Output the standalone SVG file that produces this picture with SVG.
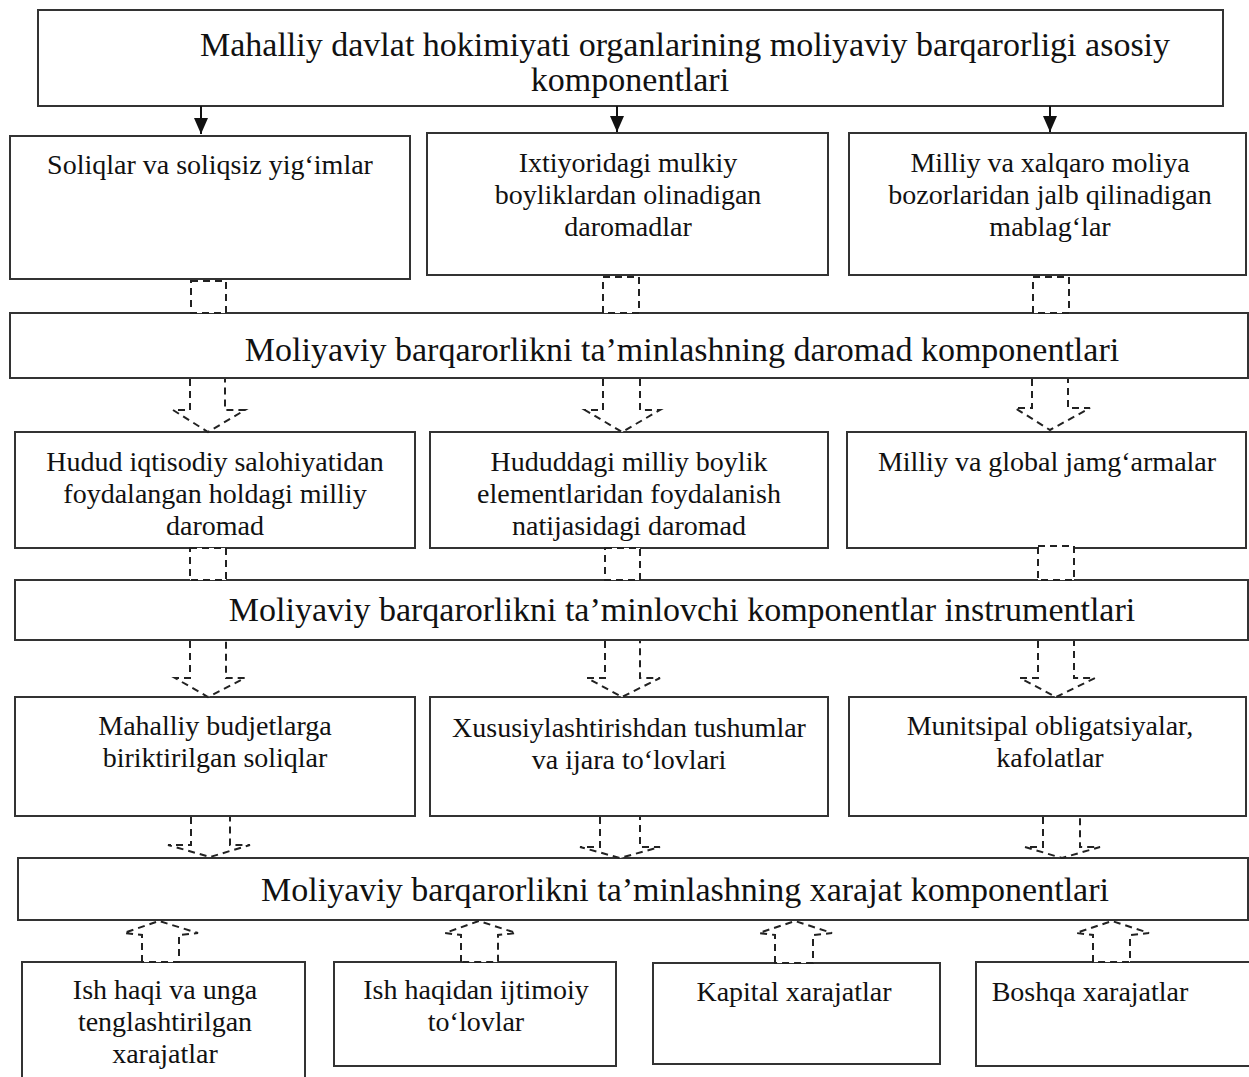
<svg xmlns="http://www.w3.org/2000/svg" width="1249" height="1077" viewBox="0 0 1249 1077">
<defs>
<style>
.box{fill:#fff;stroke:#333;stroke-width:2}
.t{font-family:"Liberation Serif","Times New Roman",serif;font-size:28px;fill:#111;text-anchor:middle}
.tb{font-family:"Liberation Serif","Times New Roman",serif;font-size:34px;fill:#111;text-anchor:middle}
.dash{fill:#fff;stroke:#222;stroke-width:2;stroke-dasharray:7,5}
.solid{stroke:#111;stroke-width:2;fill:none}
</style>
<marker id="ah" markerWidth="16" markerHeight="14" refX="16" refY="7" orient="auto" markerUnits="userSpaceOnUse" viewBox="0 0 16 14"><path d="M0,0 L16,7 L0,14 Z" fill="#111"/></marker>
</defs>
<rect width="1249" height="1077" fill="#fff"/>

<g id="n-top">
<rect class="box" x="38" y="10" width="1185" height="96"/>
<text class="tb" x="200" y="56" style="text-anchor:start">Mahalliy davlat hokimiyati organlarining moliyaviy barqarorligi asosiy</text>
<text class="tb" x="630" y="91">komponentlari</text>
</g>

<g id="n-r1a"><rect class="box" x="10" y="136" width="400" height="143"/>
<text class="t" x="210" y="174">Soliqlar va soliqsiz yig‘imlar</text></g>
<g id="n-r1b"><rect class="box" x="427" y="133" width="401" height="142"/>
<text class="t" x="628" y="172">Ixtiyoridagi mulkiy</text>
<text class="t" x="628" y="204">boyliklardan olinadigan</text>
<text class="t" x="628" y="236">daromadlar</text></g>
<g id="n-r1c"><rect class="box" x="849" y="133" width="397" height="142"/>
<text class="t" x="1050" y="172">Milliy va xalqaro moliya</text>
<text class="t" x="1050" y="204">bozorlaridan jalb qilinadigan</text>
<text class="t" x="1050" y="236">mablag‘lar</text></g>

<g id="n-bar1"><rect class="box" x="10" y="313" width="1238" height="65"/>
<text class="tb" x="682" y="361">Moliyaviy barqarorlikni ta’minlashning daromad komponentlari</text></g>

<g id="n-r2a"><rect class="box" x="15" y="432" width="400" height="116"/>
<text class="t" x="215" y="471">Hudud iqtisodiy salohiyatidan</text>
<text class="t" x="215" y="503">foydalangan holdagi milliy</text>
<text class="t" x="215" y="535">daromad</text></g>
<g id="n-r2b"><rect class="box" x="430" y="432" width="398" height="116"/>
<text class="t" x="629" y="471">Hududdagi milliy boylik</text>
<text class="t" x="629" y="503">elementlaridan foydalanish</text>
<text class="t" x="629" y="535">natijasidagi daromad</text></g>
<g id="n-r2c"><rect class="box" x="847" y="432" width="399" height="116"/>
<text class="t" x="1047" y="471">Milliy va global jamg‘armalar</text></g>

<g id="n-bar2"><rect class="box" x="15" y="580" width="1233" height="60"/>
<text class="tb" x="682" y="621">Moliyaviy barqarorlikni ta’minlovchi komponentlar instrumentlari</text></g>

<g id="n-r3a"><rect class="box" x="15" y="697" width="400" height="119"/>
<text class="t" x="215" y="735">Mahalliy budjetlarga</text>
<text class="t" x="215" y="767">biriktirilgan soliqlar</text></g>
<g id="n-r3b"><rect class="box" x="430" y="697" width="398" height="119"/>
<text class="t" x="629" y="737">Xususiylashtirishdan tushumlar</text>
<text class="t" x="629" y="769">va ijara to‘lovlari</text></g>
<g id="n-r3c"><rect class="box" x="849" y="697" width="397" height="119"/>
<text class="t" x="1050" y="735">Munitsipal obligatsiyalar,</text>
<text class="t" x="1050" y="767">kafolatlar</text></g>

<g id="n-bar3"><rect class="box" x="18" y="858" width="1230" height="62"/>
<text class="tb" x="685" y="901">Moliyaviy barqarorlikni ta’minlashning xarajat komponentlari</text></g>

<g id="n-r4a"><rect class="box" x="22" y="962" width="283" height="125"/>
<text class="t" x="165" y="999">Ish haqi va unga</text>
<text class="t" x="165" y="1031">tenglashtirilgan</text>
<text class="t" x="165" y="1063">xarajatlar</text></g>
<g id="n-r4b"><rect class="box" x="334" y="962" width="282" height="104"/>
<text class="t" x="476" y="999">Ish haqidan ijtimoiy</text>
<text class="t" x="476" y="1031">to‘lovlar</text></g>
<g id="n-r4c"><rect class="box" x="653" y="963" width="287" height="101"/>
<text class="t" x="794" y="1001">Kapital xarajatlar</text></g>
<g id="n-r4d"><rect class="box" x="976" y="962" width="290" height="104"/>
<text class="t" x="1090" y="1001">Boshqa xarajatlar</text></g>

<g id="connectors">
<line class="solid" x1="201" y1="106" x2="201" y2="134" marker-end="url(#ah)"/>
<line class="solid" x1="617" y1="106" x2="617" y2="132" marker-end="url(#ah)"/>
<line class="solid" x1="1050" y1="106" x2="1050" y2="132" marker-end="url(#ah)"/>

<rect class="dash" x="191" y="281" width="35" height="32"/>
<rect class="dash" x="603" y="277" width="36" height="36"/>
<rect class="dash" x="1033" y="277" width="36" height="36"/>

<polyline class="dash" points="190,379 190,410 173,410 208,432 245,410 225,410 225,379"/>
<polyline class="dash" points="603,379 603,410 585,410 622,432 660,410 640,410 640,379"/>
<polyline class="dash" points="1032,379 1032,408 1015,408 1050,430 1090,408 1068,408 1068,379"/>

<rect class="dash" x="190" y="548" width="36" height="32"/>
<rect class="dash" x="605" y="548" width="35" height="32"/>
<rect class="dash" x="1038" y="546" width="36" height="34"/>

<polyline class="dash" points="190,641 190,678 175,678 208,697 245,678 226,678 226,641"/>
<polyline class="dash" points="605,641 605,678 587,678 622,697 660,678 640,678 640,641"/>
<polyline class="dash" points="1038,641 1038,678 1020,678 1056,697 1095,678 1074,678 1074,641"/>

<polyline class="dash" points="191,817 191,845 168,845 210,857 250,845 230,845 230,817"/>
<polyline class="dash" points="600,817 600,847 580,847 620,858 660,847 640,847 640,817"/>
<polyline class="dash" points="1043,817 1043,847 1025,847 1062,858 1100,847 1080,847 1080,817"/>

<polygon class="dash" points="142,962 142,935 124,933 159,921 198,933 179,935 179,962"/>
<polygon class="dash" points="461,962 461,935 445,933 479,921 516,933 498,935 498,962"/>
<polygon class="dash" points="775,963 775,935 759,933 795,921 832,933 813,935 813,963"/>
<polygon class="dash" points="1093,962 1093,935 1076,933 1112,921 1149,933 1130,935 1130,962"/>
</g>
</svg>
